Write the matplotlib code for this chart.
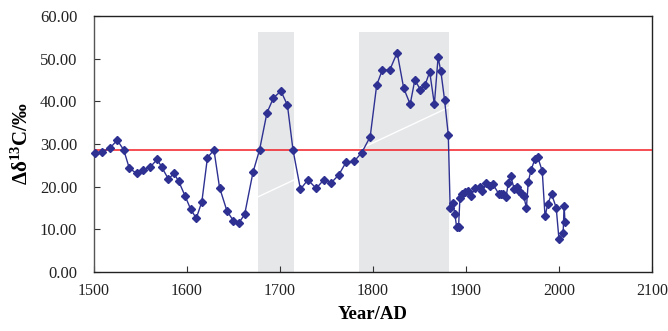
import matplotlib
matplotlib.use("Agg")
import matplotlib.pyplot as plt
from matplotlib.ticker import FormatStrFormatter

plt.rcParams['font.family'] = ['Liberation Serif', 'DejaVu Serif']
plt.rcParams['mathtext.fontset'] = 'custom'
plt.rcParams['mathtext.rm'] = 'Liberation Serif'
plt.rcParams['mathtext.bf'] = 'Liberation Serif:bold'

# series
years = [1501, 1509, 1517, 1525, 1532, 1538, 1546, 1553, 1560, 1568, 1573, 1580,
         1586, 1591, 1598, 1604, 1610, 1616, 1622, 1629, 1635, 1643, 1650, 1656,
         1662, 1671, 1678, 1686, 1693, 1701, 1708, 1714, 1722, 1730, 1739, 1747,
         1755, 1763, 1771, 1780, 1788, 1797, 1804, 1810, 1818, 1826, 1833, 1840,
         1845, 1851, 1856, 1861, 1866, 1870, 1873, 1877, 1881, 1883, 1886, 1888,
         1890, 1892, 1893.5, 1896, 1899, 1902, 1905, 1910, 1915, 1917.5, 1922, 1926,
         1929, 1935, 1938, 1940, 1943, 1945.5, 1948, 1952, 1955, 1957, 1960, 1962,
         1965, 1967, 1970, 1974, 1977, 1982, 1985, 1988, 1992, 1997, 2000, 2004.5,
         2005.5, 2006.5]
d13c = [27.8, 28.2, 29.0, 30.9, 28.6, 24.3, 23.1, 23.9, 24.5, 26.4, 24.5, 21.8,
        23.1, 21.3, 17.8, 14.7, 12.6, 16.5, 26.8, 28.6, 19.8, 14.3, 12.0, 11.6,
        13.5, 23.4, 28.6, 37.3, 40.8, 42.4, 39.1, 28.6, 19.4, 21.6, 19.6, 21.6,
        20.9, 22.7, 25.7, 26.0, 28.0, 31.7, 43.8, 47.3, 47.3, 51.4, 43.1, 39.3,
        45.0, 42.7, 43.8, 46.9, 39.3, 50.3, 47.0, 40.3, 32.1, 14.9, 16.2, 13.6,
        10.5, 10.5, 17.3, 18.2, 18.7, 19.0, 17.8, 19.6, 20.0, 19.0, 20.8, 20.2,
        20.6, 18.4, 18.2, 18.4, 17.5, 20.8, 22.5, 19.4, 19.9, 19.1, 18.2, 17.8,
        15.1, 21.2, 23.9, 26.4, 27.0, 23.7, 13.1, 15.9, 18.3, 15.1, 7.7, 9.2,
        15.5, 11.8]

spans = [(1676, 1715), (1785, 1882)]
span_top = 56.2
ref_level = 28.5
trend_x = [1500, 2005]
trend_y = [-0.4, 51.2]

fig = plt.figure(figsize=(6.68, 3.31), dpi=100)
ax = fig.add_axes([0.1407, 0.178, 0.8353, 0.774])

for a, b in spans:
    ax.fill_between([a, b], 0, span_top, color='#e6e7e9', lw=0, zorder=1)

ax.plot(trend_x, trend_y, color='white', lw=1.0, zorder=2)
ax.axhline(ref_level, color='#f21c24', lw=1.1, zorder=3)
ax.plot(years, d13c, color='#2e3192', lw=1.0, marker='D', ms=4.4,
        mfc='#2e3192', mec='#2e3192', zorder=4, clip_on=False)

ax.set_xlim(1500, 2100)
ax.set_ylim(0, 60)
ax.set_xticks(range(1500, 2101, 100))
ax.set_yticks(range(0, 61, 10))
ax.yaxis.set_major_formatter(FormatStrFormatter('%.2f'))
ax.tick_params(axis='x', direction='in', length=4, labelsize=11.5, pad=8,
               colors='#333333', labelcolor='#222222')
ax.tick_params(axis='y', direction='in', length=4, labelsize=12, pad=12,
               colors='#333333', labelcolor='#222222')
for s in ax.spines.values():
    s.set_color('#222222')
    s.set_linewidth(1.0)
ax.spines['left'].set_color('#555555')

ax.set_xlabel('Year/AD', fontsize=13.5, fontweight='bold', labelpad=5)
ax.set_ylabel(r'$\mathbf{\Delta\delta^{13}C/‰}$', fontsize=15, labelpad=5)

fig.savefig('out.png', dpi=100)
